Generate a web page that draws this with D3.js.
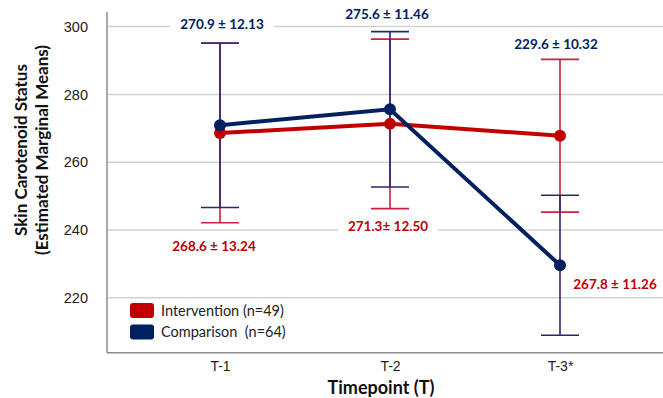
<!DOCTYPE html>
<html lang="en">
<head>
  <meta charset="UTF-8">
  <title>Skin Carotenoid Status</title>
  <script src="https://d3js.org/d3.v7.min.js"></script>
  <style>
    body { margin: 0; background: #fff; }
    svg { display: block; font-family: Lato, "Open Sans", sans-serif; }
    .tick text { font-size: 14.5px; fill: #222; }
  </style>
</head>
<body>
  <svg width="663" height="398"></svg>
  <script>
    // data
    const timepoints = ["T-1", "T-2", "T-3*"];
    const interventionMean = [268.6, 271.3, 267.8];
    const interventionSE = [13.24, 12.50, 11.26];
    const comparisonMean = [270.9, 275.6, 229.6];
    const comparisonSE = [12.13, 11.46, 10.32];
    const yTicks = [220, 240, 260, 280, 300];

    // value labels: category, y value, pixel shift, series
    const labels = [
      { t: "T-1", v: 300.8, dx: 2, text: "270.9 ± 12.13", s: "comp", bg: true },
      { t: "T-2", v: 303.5, dx: -3, text: "275.6 ± 11.46", s: "comp", bg: true },
      { t: "T-3*", v: 294.9, dx: -4, text: "229.6 ± 10.32", s: "comp", bg: false },
      { t: "T-2", v: 241.0, dx: -2, text: "271.3± 12.50", s: "int", bg: true },
      { t: "T-1", v: 235.3, dx: -6, text: "268.6 ± 13.24", s: "int", bg: false },
      { t: "T-3*", v: 224.0, dx: 55, text: "267.8 ± 11.26", s: "int", bg: false }
    ];

    const colors = {
      int: { line: "#c00000", err: "#c8233f" },
      comp: { line: "#002060", err: "#2b2670" }
    };

    const svg = d3.select("svg");
    const mLeft = 107, mRight = 663, mTop = 12, mBottom = 352.7;

    const x = d3.scalePoint().domain(timepoints).range([220, 560]);
    const y = d3.scaleLinear().domain([203.8, 304.3]).range([mBottom, mTop]);

    // gridlines
    svg.append("g")
      .selectAll("line")
      .data(yTicks)
      .join("line")
      .attr("x1", mLeft).attr("x2", mRight)
      .attr("y1", d => y(d)).attr("y2", d => y(d))
      .attr("stroke", "#d2d2d2")
      .attr("stroke-width", 1.5);

    // axes
    const yAxis = svg.append("g")
      .attr("transform", `translate(${mLeft},0)`)
      .call(d3.axisLeft(y).tickValues(yTicks).tickSize(0).tickPadding(19));
    yAxis.select(".domain").remove();

    const xAxis = svg.append("g")
      .attr("transform", `translate(0,${mBottom})`)
      .call(d3.axisBottom(x).tickSize(0).tickPadding(8));
    xAxis.select(".domain").remove();
    xAxis.selectAll("text").style("font-size", "14px");

    svg.append("line")
      .attr("x1", mLeft).attr("x2", mLeft).attr("y1", mTop).attr("y2", mBottom)
      .attr("stroke", "#8c8c8c").attr("stroke-width", 1.5);
    svg.append("line")
      .attr("x1", mLeft).attr("x2", mRight).attr("y1", mBottom).attr("y2", mBottom)
      .attr("stroke", "#8c8c8c").attr("stroke-width", 1.5);

    // series
    const series = [
      { key: "int", mean: interventionMean, se: interventionSE },
      { key: "comp", mean: comparisonMean, se: comparisonSE }
    ];

    // error bars (95% CI ~ 2 x SE)
    series.forEach(s => {
      const g = svg.append("g").attr("stroke", colors[s.key].err).attr("stroke-width", 1.6);
      timepoints.forEach((t, i) => {
        const lo = s.mean[i] - 2 * s.se[i], hi = s.mean[i] + 2 * s.se[i];
        g.append("line").attr("x1", x(t)).attr("x2", x(t)).attr("y1", y(lo)).attr("y2", y(hi));
        g.append("line").attr("x1", x(t) - 19).attr("x2", x(t) + 19).attr("y1", y(lo)).attr("y2", y(lo));
        g.append("line").attr("x1", x(t) - 19).attr("x2", x(t) + 19).attr("y1", y(hi)).attr("y2", y(hi));
      });
    });

    const line = d3.line().x((d, i) => x(timepoints[i])).y(d => y(d));
    series.forEach(s => {
      svg.append("path")
        .datum(s.mean)
        .attr("d", line)
        .attr("fill", "none")
        .attr("stroke", colors[s.key].line)
        .attr("stroke-width", 4);
      svg.append("g")
        .selectAll("circle")
        .data(s.mean)
        .join("circle")
        .attr("cx", (d, i) => x(timepoints[i]))
        .attr("cy", d => y(d))
        .attr("r", 6)
        .attr("fill", colors[s.key].line);
    });

    // value labels
    labels.forEach(l => {
      const g = svg.append("g").attr("transform", `translate(${x(l.t) + l.dx},${y(l.v)})`);
      const txt = g.append("text")
        .attr("text-anchor", "middle")
        .attr("dy", "0.35em")
        .attr("font-weight", "bold")
        .attr("font-size", 13.5)
        .attr("fill", colors[l.s].line)
        .text(l.text);
      if (l.bg) {
        const b = txt.node().getBBox();
        g.insert("rect", "text")
          .attr("x", b.x - 10).attr("y", b.y - 2)
          .attr("width", b.width + 20).attr("height", b.height + 4)
          .attr("fill", "#fff");
      }
    });

    // legend
    const legend = svg.append("g").attr("transform", "translate(130,303)");
    [["Intervention (n=49)", "int"], ["Comparison  (n=64)", "comp"]].forEach((d, i) => {
      const row = legend.append("g").attr("transform", `translate(0,${i * 21.5})`);
      row.append("rect")
        .attr("width", 24).attr("height", 15).attr("rx", 3)
        .attr("fill", colors[d[1]].line);
      row.append("text")
        .attr("x", 31).attr("y", 7.5).attr("dy", "0.35em")
        .attr("font-size", 14.5).attr("fill", "#222")
        .style("white-space", "pre")
        .text(d[0]);
    });

    // axis titles
    const yt = svg.append("text")
      .attr("transform", "translate(21,150) rotate(-90)")
      .attr("text-anchor", "middle")
      .attr("font-weight", "bold")
      .attr("font-size", 17)
      .attr("fill", "#111");
    yt.append("tspan").attr("x", 0).attr("dy", "0.35em").text("Skin Carotenoid Status");
    yt.append("tspan").attr("x", 0).attr("dy", 21).text("(Estimated Marginal Means)");

    svg.append("text")
      .attr("x", 381).attr("y", 388).attr("dy", "0.35em")
      .attr("text-anchor", "middle")
      .attr("font-weight", "bold")
      .attr("font-size", 18)
      .attr("fill", "#111")
      .text("Timepoint (T)");
  </script>
</body>
</html>
